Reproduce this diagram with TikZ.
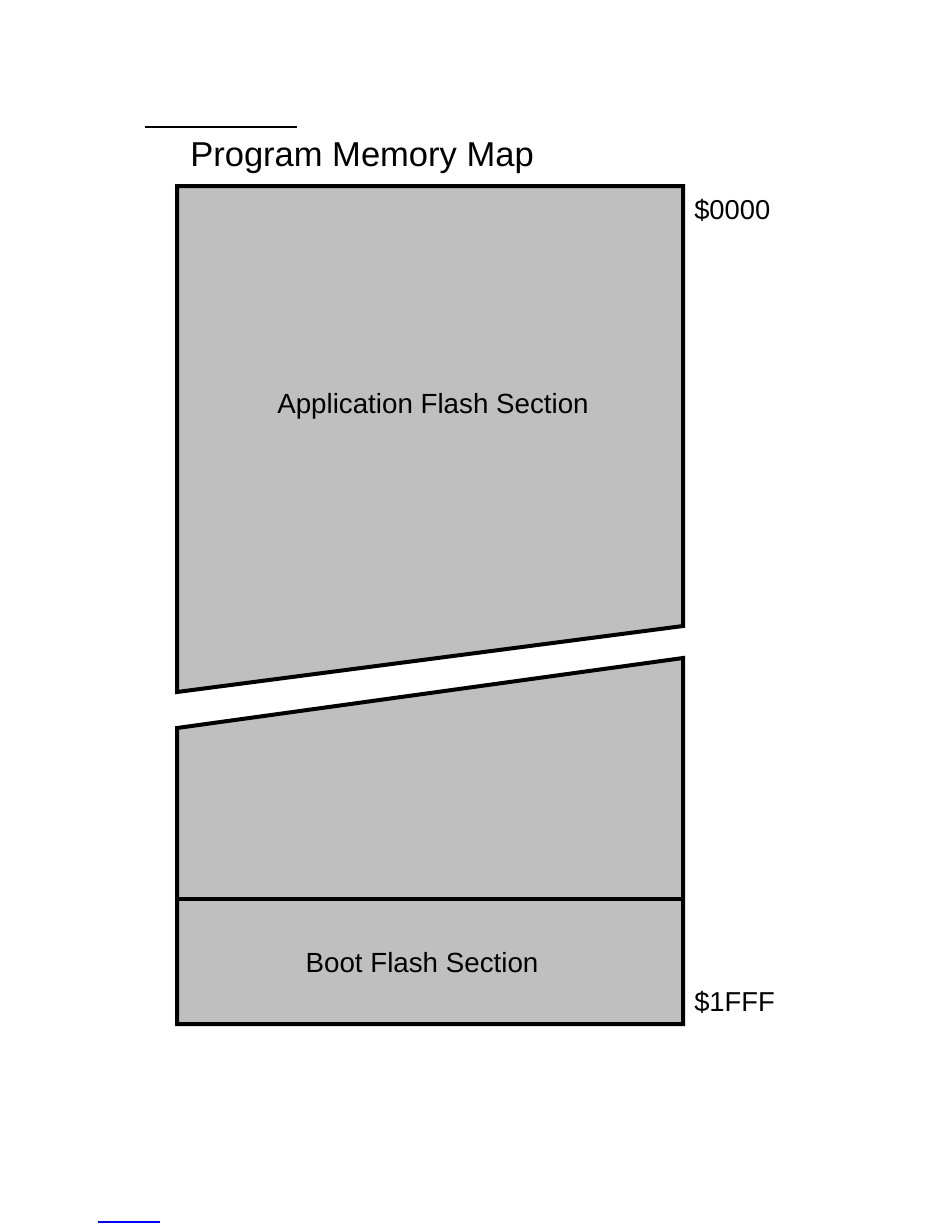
\documentclass[tikz,border=0pt]{standalone}
\usepackage{fontspec}
\setmainfont{Liberation Sans}
\begin{document}
\begin{tikzpicture}[x=0.75pt,y=-0.75pt,
  blockfill/.style={fill=black!25,draw=black,line width=3pt,line join=miter},
  lbl/.style={inner sep=0pt,font=\fontsize{20.8}{24}\selectfont},
  addr/.style={inner sep=0pt,anchor=west,font=\fontsize{20.5}{24}\selectfont}]
\useasboundingbox (0,0) rectangle (950,1229);
% top rule
\draw[line width=1.5pt] (145,127) -- (297,127);
\node[inner sep=0pt,anchor=base west,font=\fontsize{25.9}{30}\selectfont] (title) at (190,166) {Program Memory Map};
% upper block
\draw[blockfill] (177,186) -- (683,186) -- (683,626) -- (177,692) -- cycle;
% lower block
\draw[blockfill] (177,728) -- (683,658) -- (683,1024) -- (177,1024) -- cycle;
\draw[line width=3pt] (177,899) -- (683,899);
\node[lbl] (app) at (433,406) {Application Flash Section};
\node[lbl] (boot) at (422,963) {Boot Flash Section};
\node[addr] (a0) at (694,210) {\$0000};
\node[addr] (a1) at (694,1002) {\$1FFF};
% blue line
\draw[blue,line width=1pt] (98,1222) -- (160,1222);
\end{tikzpicture}
\end{document}
